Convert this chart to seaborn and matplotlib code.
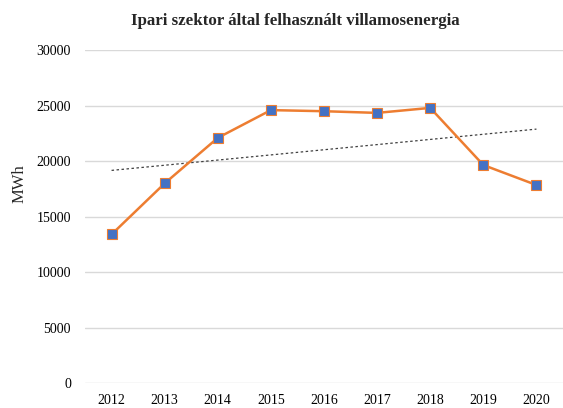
import numpy as np
import pandas as pd
import seaborn as sns
import matplotlib.pyplot as plt

years = ["2012", "2013", "2014", "2015", "2016", "2017", "2018", "2019", "2020"]
mwh = [13400, 18000, 22100, 24600, 24500, 24350, 24800, 19650, 17850]

sns.set_style("white")
plt.rcParams['font.family'] = ['Liberation Serif', 'DejaVu Serif']

df = pd.DataFrame({"year": years, "mwh": mwh})
df["idx"] = range(len(years))

fig = plt.figure(figsize=(5.63, 4.08), dpi=100)
ax = fig.add_axes([0.151, 0.061, 0.849, 0.816])

# linear trendline
k, b = np.polyfit(df["idx"], df["mwh"], 1)
ax.plot(df["idx"], k * df["idx"] + b, color="#404040", lw=0.9, ls=(0, (2, 2)), zorder=2)

sns.lineplot(data=df, x="idx", y="mwh", ax=ax, color="#ED7D31", lw=1.8,
             marker="s", markersize=7.3, markerfacecolor="#4472C4",
             markeredgecolor="#ED7D31", markeredgewidth=0.8, zorder=3)

ax.set_xlim(-0.5, len(years) - 0.5)
ax.set_ylim(0, 30000)
ax.set_yticks(range(0, 30001, 5000))
ax.set_xticks(df["idx"])
ax.set_xticklabels(years)
ax.grid(axis="y", color="#D9D9D9", lw=1)
ax.set_axisbelow(True)
for s in ax.spines.values():
    s.set_visible(False)
ax.tick_params(axis="both", length=0, labelsize=10, colors="#000000", pad=8)
ax.tick_params(axis="y", pad=10)
ax.set_xlabel("")
ax.set_ylabel("MWh", fontsize=12)
ax.yaxis.set_label_coords(-0.121, 0.60)
ax.set_title("Ipari szektor által felhasznált villamosenergia", fontsize=12.2,
             fontweight="bold", pad=18, x=0.44)

fig.savefig("out.png", dpi=100)
